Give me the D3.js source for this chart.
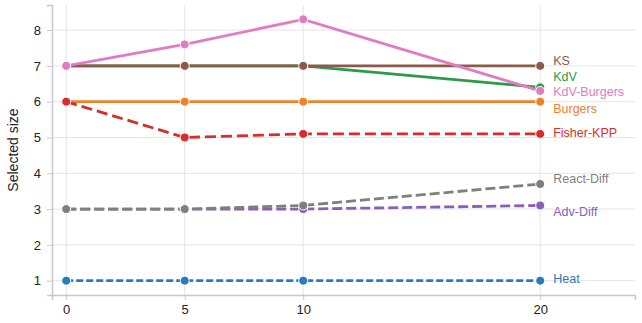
<!DOCTYPE html>
<html><head><meta charset="utf-8">
<script src="https://cdn.jsdelivr.net/npm/d3@7"></script>
<style>body{margin:0;background:#fff;}svg{display:block;font-family:"Liberation Sans",Arial,sans-serif;}</style>
</head><body>
<svg id="c" width="642" height="323"></svg>
<script>
const xValues = [0, 5, 10, 20];
const seriesNames = ["Heat", "Burgers", "KdV", "Fisher-KPP", "Adv-Diff", "KS", "KdV-Burgers", "React-Diff"];
const heat = [1, 1, 1, 1];
const burgers = [6, 6, 6, 6];
const kdv = [7, 7, 7, 6.4];
const fisher = [6, 5, 5.1, 5.1];
const advDiff = [3, 3, 3, 3.1];
const ks = [7, 7, 7, 7];
const kdvBurgers = [7, 7.6, 8.3, 6.3];
const reactDiff = [3, 3, 3.1, 3.7];
const yTicks = [1, 2, 3, 4, 5, 6, 7, 8];
const xTicks = [0, 5, 10, 20];
const yLabel = "Selected size";

const colors = ["#2b7bba", "#f0802a", "#2c9a47", "#d62d2d", "#8a5fb8", "#8c5a4c", "#e07bc4", "#7f7f7f"];
const dashes = ["7,3", null, null, "11,5", "10,4", null, null, "10,4"];
const labelDy = [-2, 7, -11, -1, 6, -5, 1, -5];
const values = [heat, burgers, kdv, fisher, advDiff, ks, kdvBurgers, reactDiff];

const svg = d3.select("#c");
const x = d3.scaleLinear().domain([-0.6, 24]).range([52, 635]);
const y = d3.scaleLinear().domain([0.6, 8.7]).range([295, 5]);

// grid
const g = svg.append("g");
g.selectAll(".gy").data(yTicks).join("line")
  .attr("x1", 52).attr("x2", 635).attr("y1", d => y(d)).attr("y2", d => y(d))
  .attr("stroke", "#e4e4ec").attr("stroke-width", 1);
g.selectAll(".gx").data(xTicks).join("line")
  .attr("y1", 5).attr("y2", 295).attr("x1", d => x(d)).attr("x2", d => x(d))
  .attr("stroke", "#e4e4ec").attr("stroke-width", 1);

// axes
const ax = svg.append("g").attr("transform", "translate(0,295)")
  .call(d3.axisBottom(x).tickValues(xTicks).tickSize(5).tickPadding(5).tickFormat(d3.format("d")));
const ay = svg.append("g").attr("transform", "translate(52,0)")
  .call(d3.axisLeft(y).tickValues(yTicks).tickSize(5).tickPadding(6).tickFormat(d3.format("d")));
[ax, ay].forEach(a => {
  a.select(".domain").attr("stroke", "#c8c8cc").attr("stroke-width", 1.5);
  a.selectAll(".tick line").attr("stroke", "#c8c8cc");
  a.selectAll(".tick text").attr("fill", "#222").style("font-size", "13px").style("font-family", "Liberation Sans, Arial, sans-serif");
});

svg.append("text").attr("transform", "translate(18,150) rotate(-90)")
  .attr("text-anchor", "middle").attr("fill", "#222").style("font-size", "14px").text(yLabel);

const line = d3.line().x((d, i) => x(xValues[i])).y(d => y(d));
seriesNames.forEach((name, k) => {
  const vals = values[k];
  svg.append("path").attr("d", line(vals)).attr("fill", "none")
    .attr("stroke", colors[k]).attr("stroke-width", 2.8)
    .attr("stroke-dasharray", dashes[k]);
  svg.selectAll(null).data(vals).join("circle")
    .attr("cx", (d, i) => x(xValues[i])).attr("cy", d => y(d)).attr("r", 4.5)
    .attr("fill", colors[k]).attr("stroke", "#fff").attr("stroke-width", 1);
  svg.append("text").attr("x", x(xValues[3]) + 13).attr("y", y(vals[3]) + labelDy[k])
    .attr("dy", "0.35em").attr("fill", colors[k]).style("font-size", "12.5px").text(name);
});
</script>
</body></html>
